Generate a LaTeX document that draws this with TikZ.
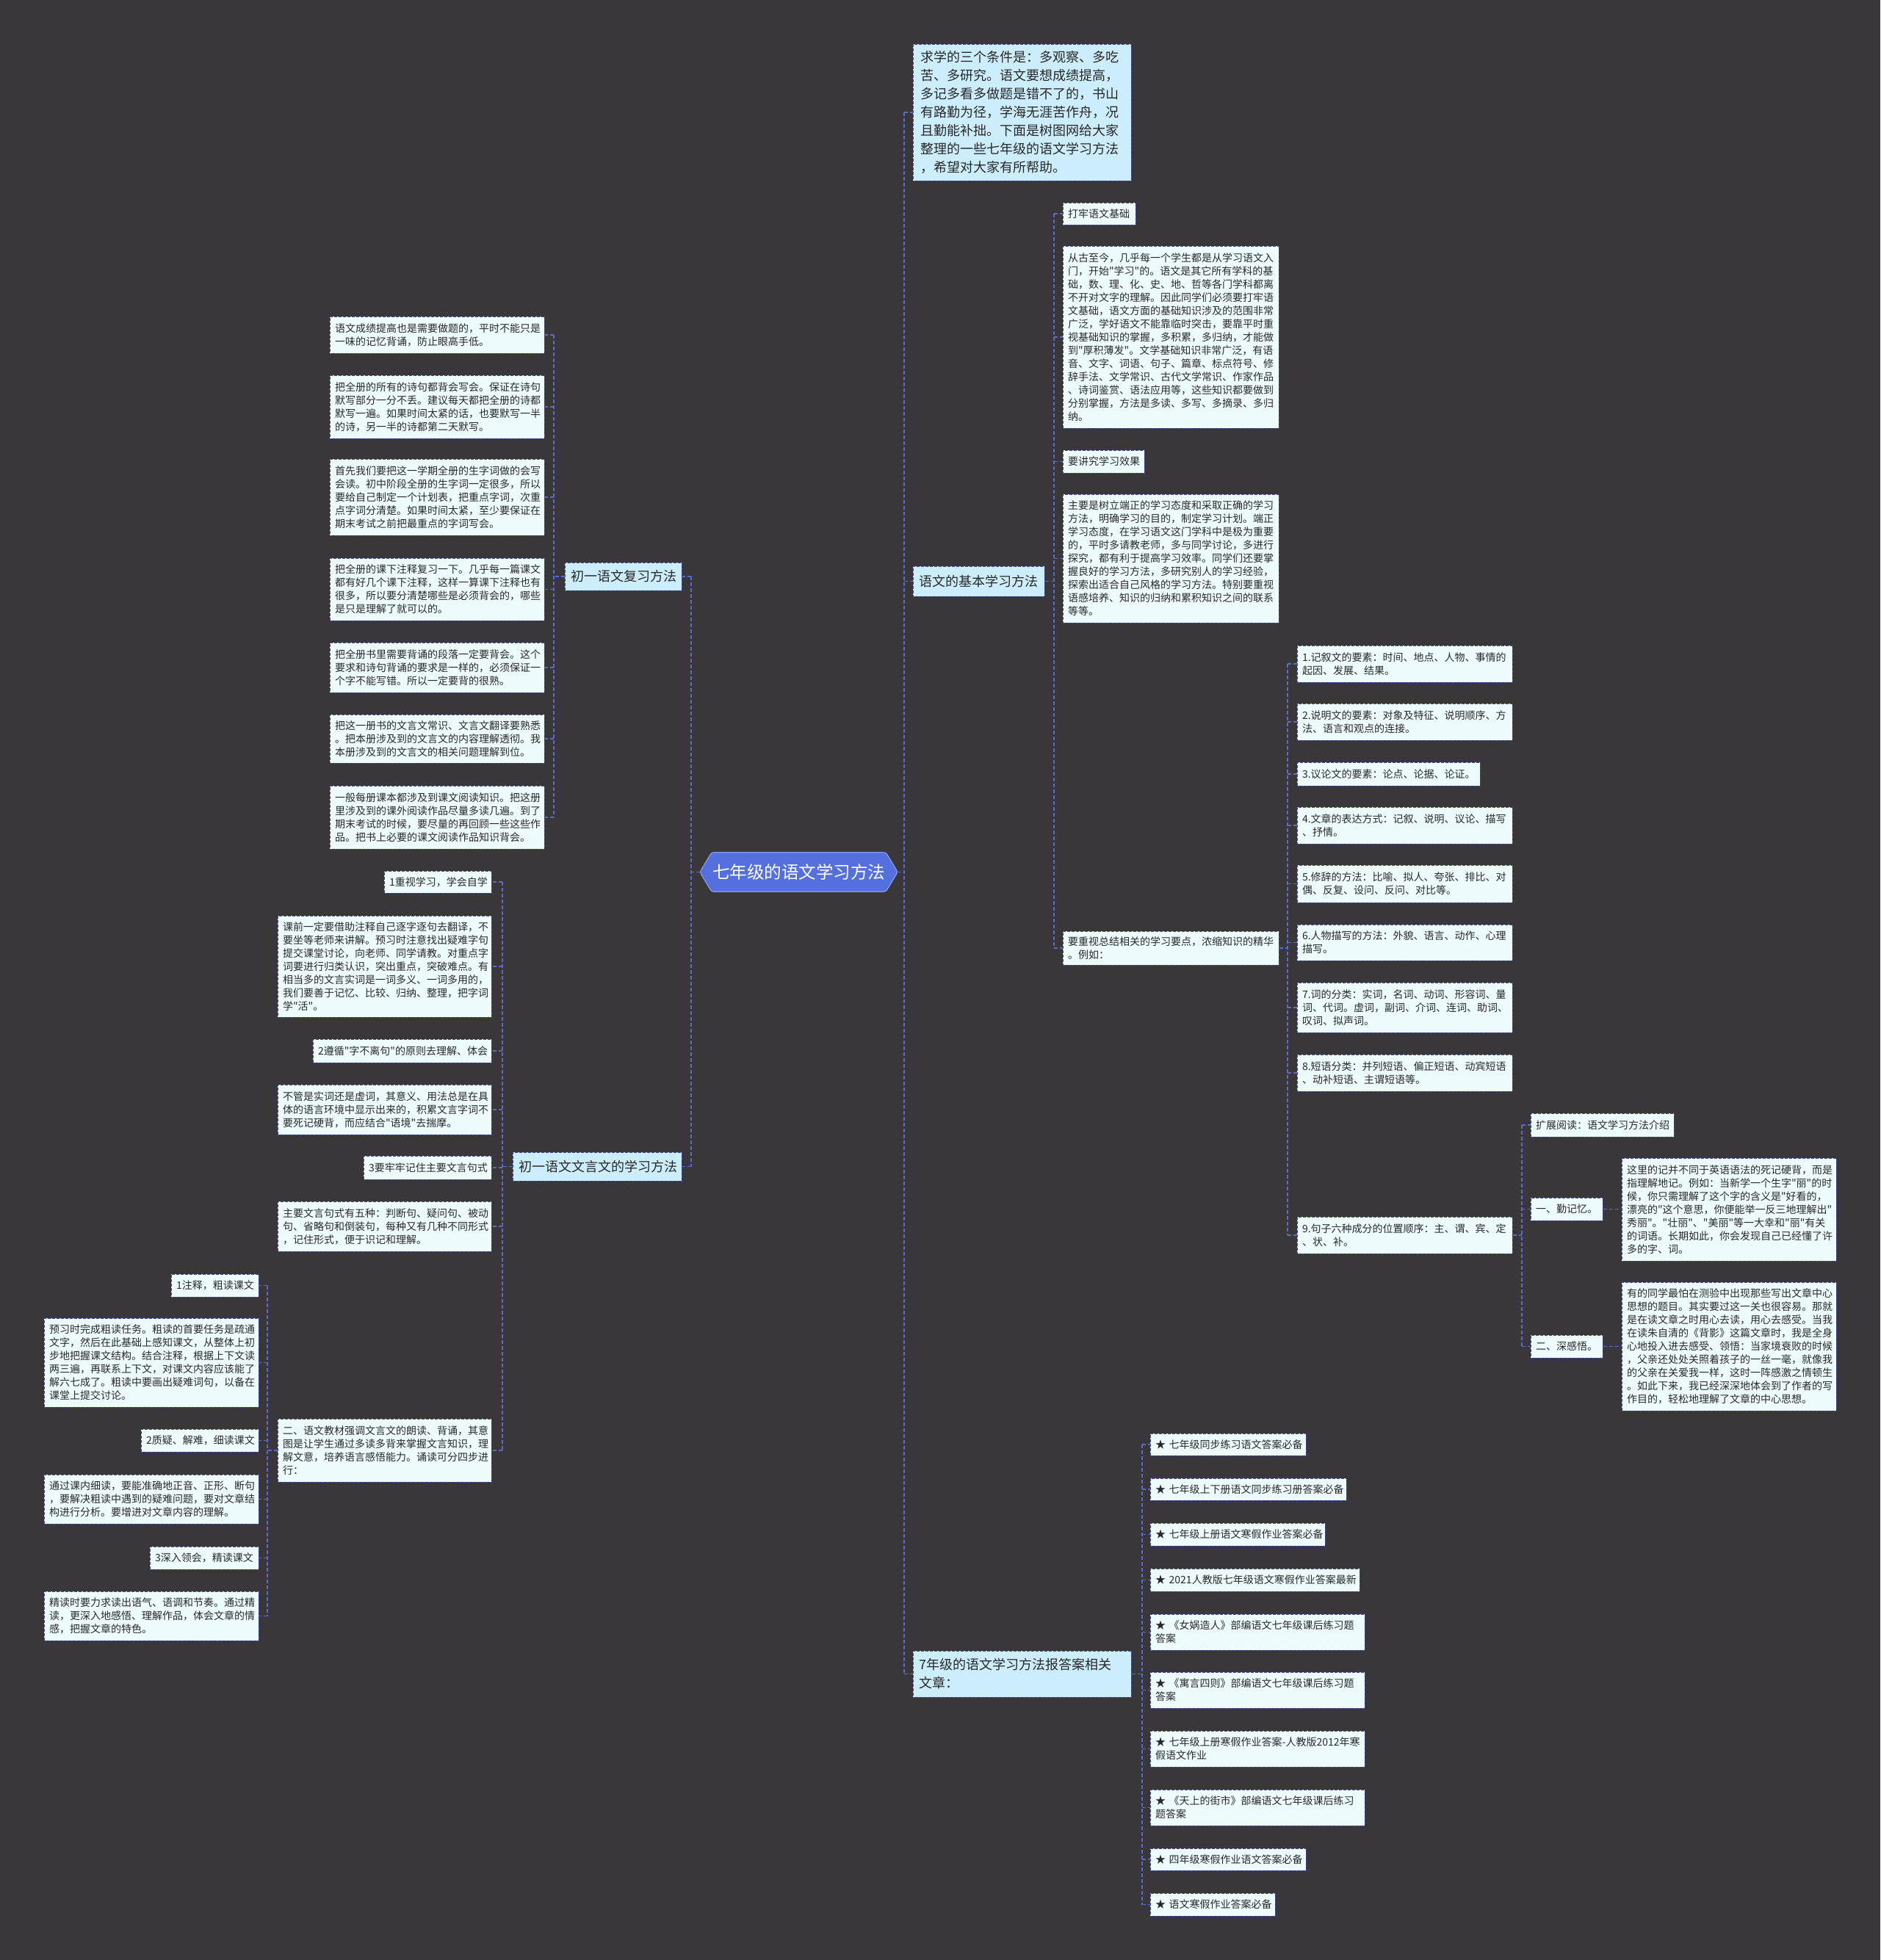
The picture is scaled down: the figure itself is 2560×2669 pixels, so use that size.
\documentclass[tikz,border=0pt]{standalone}
\usepackage{fontspec}
\newfontfamily\cjkf{Noto Sans CJK SC}
\usetikzlibrary{backgrounds}
\definecolor{bgc}{RGB}{57,55,57}
\definecolor{leaff}{RGB}{238,251,253}
\definecolor{brf}{RGB}{204,237,251}
\definecolor{bordc}{RGB}{60,75,150}
\definecolor{connc}{RGB}{88,108,210}
\definecolor{txt}{RGB}{40,40,40}
\definecolor{cenf}{RGB}{84,112,222}
\exhyphenpenalty=10000
\hyphenpenalty=10000
\newcommand\bx[8]{%
 \pgfmathsetmacro\mycx{(#2+#4)/2}%
 \pgfmathsetmacro\mycy{(#3+#5)/2}%
 \pgfmathsetmacro\myw{#4-#2}%
 \pgfmathsetmacro\myh{#5-#3}%
 \pgfmathsetmacro\mytw{#4-#2-2*#7}%
 \node[#6, minimum width=\myw pt, minimum height=\myh pt, text width=\mytw pt] (#1) at (\mycx,\mycy) {#8};}
\tikzset{
 leaf/.style={draw=bordc, dash pattern=on 4pt off 2pt, line width=1pt, fill=leaff, text=txt,
   font=\cjkf\fontsize{14}{18}\selectfont, align=left, inner sep=0pt},
 branch/.style={leaf, fill=brf, font=\cjkf\fontsize{18}{25}\selectfont},
 conn/.style={draw=connc, line width=1.5pt, dash pattern=on 5pt off 3pt},
}
\begin{document}
\begin{tikzpicture}[x=1pt,y=-1pt]
\useasboundingbox (0,0) rectangle (2560,2669);
\begin{scope}[on background layer]
\fill[bgc] (0,0) rectangle (2560,2669);
\end{scope}

% centre
\node[minimum width=269pt, minimum height=53pt, inner sep=0pt, text=white,
  font=\cjkf\fontsize{23.5}{28}\selectfont] (cen) at (1087.5,1187.5) {七年级的语文学习方法};
\begin{scope}[on background layer]
\filldraw[fill=cenf, draw=cenf!70!white, line width=1.2pt, rounded corners=3pt]
 (cen.west) -- ([xshift=16pt]cen.north west) -- ([xshift=-16pt]cen.north east) -- (cen.east)
 -- ([xshift=-16pt]cen.south east) -- ([xshift=16pt]cen.south west) -- cycle;
\end{scope}

% ---------- right side ----------
\bx{intro}{1243}{60}{1540}{246}{branch}{10}{求学的三个条件是：多观察、多吃\\苦、多研究。语文要想成绩提高，\\多记多看多做题是错不了的，书山\\有路勤为径，学海无涯苦作舟，况\\且勤能补拙。下面是树图网给大家\\整理的一些七年级的语文学习方法\\，希望对大家有所帮助。}
\bx{basic}{1243}{771}{1422}{812}{branch}{8}{语文的基本学习方法}
\bx{rel}{1243}{2248}{1540}{2311}{branch}{8}{7年级的语文学习方法报答案相关\\文章：}

\bx{r1}{1447}{276}{1546}{306}{leaf}{7}{打牢语文基础}
\bx{r2}{1447}{335}{1741}{583}{leaf}{7}{从古至今，几乎每一个学生都是从学习语文入\\门，开始"学习"的。语文是其它所有学科的基\\础，数、理、化、史、地、哲等各门学科都离\\不开对文字的理解。因此同学们必须要打牢语\\文基础，语文方面的基础知识涉及的范围非常\\广泛，学好语文不能靠临时突击，要靠平时重\\视基础知识的掌握，多积累，多归纳，才能做\\到"厚积薄发"。文学基础知识非常广泛，有语\\音、文字、词语、句子、篇章、标点符号、修\\辞手法、文学常识、古代文学常识、作家作品\\、诗词鉴赏、语法应用等，这些知识都要做到\\分别掌握，方法是多读、多写、多摘录、多归\\纳。}
\bx{r3}{1447}{613}{1558}{644}{leaf}{7}{要讲究学习效果}
\bx{r4}{1447}{673}{1741}{848}{leaf}{7}{主要是树立端正的学习态度和采取正确的学习\\方法，明确学习的目的，制定学习计划。端正\\学习态度，在学习语文这门学科中是极为重要\\的，平时多请教老师，多与同学讨论，多进行\\探究，都有利于提高学习效率。同学们还要掌\\握良好的学习方法，多研究别人的学习经验，\\探索出适合自己风格的学习方法。特别要重视\\语感培养、知识的归纳和累积知识之间的联系\\等等。}
\bx{r5}{1447}{1268}{1741}{1314}{leaf}{7}{要重视总结相关的学习要点，浓缩知识的精华\\。例如：}

\bx{i1}{1766}{879}{2059}{929}{leaf}{7}{1.记叙文的要素：时间、地点、人物、事情的\\起因、发展、结果。}
\bx{i2}{1766}{958}{2059}{1008}{leaf}{7}{2.说明文的要素：对象及特征、说明顺序、方\\法、语言和观点的连接。}
\bx{i3}{1766}{1038}{2015}{1070}{leaf}{7}{3.议论文的要素：论点、论据、论证。}
\bx{i4}{1766}{1099}{2059}{1149}{leaf}{7}{4.文章的表达方式：记叙、说明、议论、描写\\、抒情。}
\bx{i5}{1766}{1178}{2059}{1229}{leaf}{7}{5.修辞的方法：比喻、拟人、夸张、排比、对\\偶、反复、设问、反问、对比等。}
\bx{i6}{1766}{1259}{2059}{1308}{leaf}{7}{6.人物描写的方法：外貌、语言、动作、心理\\描写。}
\bx{i7}{1766}{1338}{2059}{1406}{leaf}{7}{7.词的分类：实词，名词、动词、形容词、量\\词、代词。虚词，副词、介词、连词、助词、\\叹词、拟声词。}
\bx{i8}{1766}{1436}{2059}{1486}{leaf}{7}{8.短语分类：并列短语、偏正短语、动宾短语\\、动补短语、主谓短语等。}
\bx{i9}{1766}{1657}{2059}{1707}{leaf}{7}{9.句子六种成分的位置顺序：主、谓、宾、定\\、状、补。}

\bx{x1}{2084}{1516}{2279}{1548}{leaf}{7}{扩展阅读：语文学习方法介绍}
\bx{x2}{2084}{1631}{2182}{1662}{leaf}{7}{一、勤记忆。}
\bx{x3}{2208}{1577}{2500}{1717}{leaf}{7}{这里的记并不同于英语语法的死记硬背，而是\\指理解地记。例如：当新学一个生字"丽"的时\\候，你只需理解了这个字的含义是"好看的，\\漂亮的"这个意思，你便能举一反三地理解出"\\秀丽"。"壮丽"、"美丽"等一大幸和"丽"有关\\的词语。长期如此，你会发现自己已经懂了许\\多的字、词。}
\bx{x4}{2084}{1818}{2182}{1849}{leaf}{7}{二、深感悟。}
\bx{x5}{2208}{1746}{2500}{1921}{leaf}{7}{有的同学最怕在测验中出现那些写出文章中心\\思想的题目。其实要过这一关也很容易。那就\\是在读文章之时用心去读，用心去感受。当我\\在读朱自清的《背影》这篇文章时，我是全身\\心地投入进去感受、领悟：当家境衰败的时候\\，父亲还处处关照着孩子的一丝一毫，就像我\\的父亲在关爱我一样，这时一阵感激之情顿生\\。如此下来，我已经深深地体会到了作者的写\\作目的，轻松地理解了文章的中心思想。}

\bx{b1}{1566}{1952}{1778}{1982}{leaf}{7}{★~七年级同步练习语文答案必备}
\bx{b2}{1566}{2013}{1833}{2043}{leaf}{7}{★~七年级上下册语文同步练习册答案必备}
\bx{b3}{1566}{2074}{1804}{2105}{leaf}{7}{★~七年级上册语文寒假作业答案必备}
\bx{b4}{1566}{2136}{1851}{2167}{leaf}{7}{★~2021人教版七年级语文寒假作业答案最新}
\bx{b5}{1566}{2198}{1858}{2247}{leaf}{7}{★~《女娲造人》部编语文七年级课后练习题\\答案}
\bx{b6}{1566}{2277}{1858}{2326}{leaf}{7}{★~《寓言四则》部编语文七年级课后练习题\\答案}
\bx{b7}{1566}{2357}{1858}{2406}{leaf}{7}{★~七年级上册寒假作业答案\mbox{-}人教版2012年寒\\假语文作业}
\bx{b8}{1566}{2437}{1858}{2486}{leaf}{7}{★~《天上的街市》部编语文七年级课后练习\\题答案}
\bx{b9}{1566}{2517}{1778}{2547}{leaf}{7}{★~四年级寒假作业语文答案必备}
\bx{b10}{1566}{2578}{1736}{2609}{leaf}{7}{★~语文寒假作业答案必备}

% ---------- left side ----------
\bx{rev}{769}{766}{928}{804}{branch}{8}{初一语文复习方法}
\bx{wyw}{698}{1569}{928}{1608}{branch}{8}{初一语文文言文的学习方法}

\bx{L1}{449}{431}{741}{481}{leaf}{7}{语文成绩提高也是需要做题的，平时不能只是\\一味的记忆背诵，防止眼高手低。}
\bx{L2}{449}{511}{741}{597}{leaf}{7}{把全册的所有的诗句都背会写会。保证在诗句\\默写部分一分不丢。建议每天都把全册的诗都\\默写一遍。如果时间太紧的话，也要默写一半\\的诗，另一半的诗都第二天默写。}
\bx{L3}{449}{625}{741}{729}{leaf}{7}{首先我们要把这一学期全册的生字词做的会写\\会读。初中阶段全册的生字词一定很多，所以\\要给自己制定一个计划表，把重点字词，次重\\点字词分清楚。如果时间太紧，至少要保证在\\期末考试之前把最重点的字词写会。}
\bx{L4}{449}{760}{741}{845}{leaf}{7}{把全册的课下注释复习一下。几乎每一篇课文\\都有好几个课下注释，这样一算课下注释也有\\很多，所以要分清楚哪些是必须背会的，哪些\\是只是理解了就可以的。}
\bx{L5}{449}{875}{741}{943}{leaf}{7}{把全册书里需要背诵的段落一定要背会。这个\\要求和诗句背诵的要求是一样的，必须保证一\\个字不能写错。所以一定要背的很熟。}
\bx{L6}{449}{973}{741}{1039}{leaf}{7}{把这一册书的文言文常识、文言文翻译要熟悉\\。把本册涉及到的文言文的内容理解透彻。我\\本册涉及到的文言文的相关问题理解到位。}
\bx{L7}{449}{1070}{741}{1156}{leaf}{7}{一般每册课本都涉及到课文阅读知识。把这册\\里涉及到的课外阅读作品尽量多读几遍。到了\\期末考试的时候，要尽量的再回顾一些这些作\\品。把书上必要的课文阅读作品知识背会。}

\bx{M1}{523}{1186}{669}{1216}{leaf}{7}{1重视学习，学会自学}
\bx{M2}{378}{1247}{669}{1385}{leaf}{7}{课前一定要借助注释自己逐字逐句去翻译，不\\要坐等老师来讲解。预习时注意找出疑难字句\\提交课堂讨论，向老师、同学请教。对重点字\\词要进行归类认识，突出重点，突破难点。有\\相当多的文言实词是一词多义、一词多用的，\\我们要善于记忆、比较、归纳、整理，把字词\\学"活"。}
\bx{M3}{426}{1415}{669}{1447}{leaf}{7}{2遵循"字不离句"的原则去理解、体会}
\bx{M4}{378}{1477}{669}{1545}{leaf}{7}{不管是实词还是虚词，其意义、用法总是在具\\体的语言环境中显示出来的，积累文言字词不\\要死记硬背，而应结合"语境"去揣摩。}
\bx{M5}{495}{1574}{669}{1606}{leaf}{7}{3要牢牢记住主要文言句式}
\bx{M6}{378}{1636}{669}{1704}{leaf}{7}{主要文言句式有五种：判断句、疑问句、被动\\句、省略句和倒装句，每种又有几种不同形式\\，记住形式，便于识记和理解。}
\bx{M7}{378}{1932}{669}{2018}{leaf}{7}{二、语文教材强调文言文的朗读、背诵，其意\\图是让学生通过多读多背来掌握文言知识，理\\解文意，培养语言感悟能力。诵读可分四步进\\行：}

\bx{B1}{233}{1735}{352}{1766}{leaf}{7}{1注释，粗读课文}
\bx{B2}{60}{1795}{352}{1916}{leaf}{7}{预习时完成粗读任务。粗读的首要任务是疏通\\文字，然后在此基础上感知课文，从整体上初\\步地把握课文结构。结合注释，根据上下文读\\两三遍，再联系上下文，对课文内容应该能了\\解六七成了。粗读中要画出疑难词句，以备在\\课堂上提交讨论。}
\bx{B3}{192}{1946}{352}{1977}{leaf}{7}{2质疑、解难，细读课文}
\bx{B4}{60}{2008}{352}{2075}{leaf}{7}{通过课内细读，要能准确地正音、正形、断句\\，要解决粗读中遇到的疑难问题，要对文章结\\构进行分析。要增进对文章内容的理解。}
\bx{B5}{204}{2106}{352}{2137}{leaf}{7}{3深入领会，精读课文}
\bx{B6}{60}{2167}{352}{2234}{leaf}{7}{精读时要力求读出语气、语调和节奏。通过精\\读，更深入地感悟、理解作品，体会文章的情\\感，把握文章的特色。}

% ---------- connectors ----------
\coordinate (tR) at (1231,0);
\coordinate (tL) at (941,0);
\coordinate (t1) at (754,0);
\coordinate (t2) at (684,0);
\coordinate (t3) at (364,0);
\coordinate (t4) at (1435,0);
\coordinate (t5) at (1753,0);
\coordinate (t6) at (2072,0);
\coordinate (t7) at (1555,0);

% right trunks (children to the right)
\draw[conn] (cen.east) -- (cen.east -| tR);
\draw[conn] (intro.west -| tR) -- (rel.west -| tR);
\foreach \n in {intro,basic,rel} \draw[conn] (\n.west -| tR) -- (\n.west);

\draw[conn] (basic.east) -- (basic.east -| t4);
\draw[conn] (r1.west -| t4) -- (r5.west -| t4);
\foreach \n in {r1,r2,r3,r4,r5} \draw[conn] (\n.west -| t4) -- (\n.west);

\draw[conn] (r5.east) -- (r5.east -| t5);
\draw[conn] (i1.west -| t5) -- (i9.west -| t5);
\foreach \n in {i1,i2,i3,i4,i5,i6,i7,i8,i9} \draw[conn] (\n.west -| t5) -- (\n.west);

\draw[conn] (i9.east) -- (i9.east -| t6);
\draw[conn] (x1.west -| t6) -- (x4.west -| t6);
\foreach \n in {x1,x2,x4} \draw[conn] (\n.west -| t6) -- (\n.west);
\draw[conn] (x2.east) -- (x3.west |- x2.east);
\draw[conn] (x4.east) -- (x5.west |- x4.east);

\draw[conn] (rel.east) -- (rel.east -| t7);
\draw[conn] (b1.west -| t7) -- (b10.west -| t7);
\foreach \n in {b1,b2,b3,b4,b5,b6,b7,b8,b9,b10} \draw[conn] (\n.west -| t7) -- (\n.west);

% left trunks (children to the left)
\draw[conn] (cen.west) -- (cen.west -| tL);
\draw[conn] (rev.east -| tL) -- (wyw.east -| tL);
\foreach \n in {rev,wyw} \draw[conn] (\n.east -| tL) -- (\n.east);

\draw[conn] (rev.west) -- (rev.west -| t1);
\draw[conn] (L1.east -| t1) -- (L7.east -| t1);
\foreach \n in {L1,L2,L3,L4,L5,L6,L7} \draw[conn] (\n.east -| t1) -- (\n.east);

\draw[conn] (wyw.west) -- (wyw.west -| t2);
\draw[conn] (M1.east -| t2) -- (M7.east -| t2);
\foreach \n in {M1,M2,M3,M4,M5,M6,M7} \draw[conn] (\n.east -| t2) -- (\n.east);

\draw[conn] (M7.west) -- (M7.west -| t3);
\draw[conn] (B1.east -| t3) -- (B6.east -| t3);
\foreach \n in {B1,B2,B3,B4,B5,B6} \draw[conn] (\n.east -| t3) -- (\n.east);
\end{tikzpicture}
\end{document}
